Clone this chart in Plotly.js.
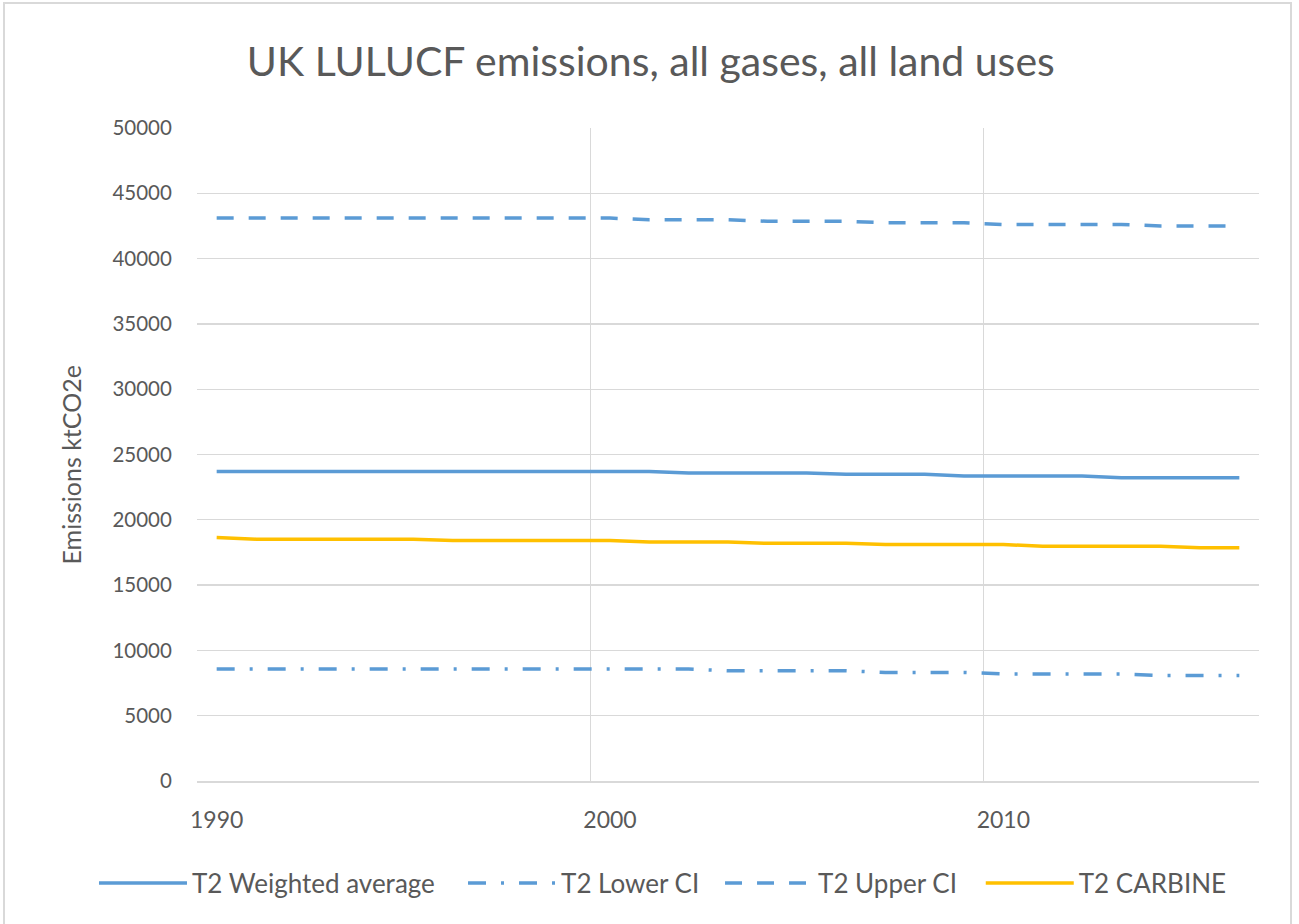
<!DOCTYPE html>
<html>
<head>
<meta charset="utf-8">
<script src="https://cdn.plot.ly/plotly-3.0.1.min.js"></script>
<style>
  html, body { margin: 0; padding: 0; background: #ffffff; overflow: hidden; }
  #wrap { position: relative; width: 1299px; height: 924px; }
  #chart { position: absolute; left: 0; top: 0; width: 1299px; height: 924px; }
  #frame { position: absolute; left: 3px; top: 2px; width: 1289px; height: 940px;
           border: 2px solid #d9d9d9; box-sizing: border-box; pointer-events: none; }
</style>
</head>
<body>
<div id="wrap">
  <div id="chart"></div>
  <div id="frame"></div>
</div>
<script>
const years = [1990, 1991, 1992, 1993, 1994, 1995, 1996, 1997, 1998, 1999,
               2000, 2001, 2002, 2003, 2004, 2005, 2006, 2007, 2008, 2009,
               2010, 2011, 2012, 2013, 2014, 2015, 2016];

const weightedAverage = [23700, 23700, 23700, 23700, 23700, 23700, 23700, 23700, 23700, 23700,
                         23700, 23700, 23590, 23590, 23590, 23590, 23480, 23480, 23480, 23350,
                         23350, 23350, 23350, 23220, 23220, 23220, 23220];

const lowerCI = [8570, 8570, 8570, 8570, 8570, 8570, 8570, 8570, 8570, 8570,
                 8570, 8570, 8570, 8440, 8440, 8440, 8440, 8310, 8310, 8310,
                 8200, 8200, 8200, 8200, 8080, 8080, 8080];

const upperCI = [43100, 43100, 43100, 43100, 43100, 43100, 43100, 43100, 43100, 43100,
                 43100, 42970, 42970, 42970, 42860, 42860, 42860, 42740, 42740, 42740,
                 42610, 42610, 42610, 42610, 42500, 42500, 42500];

const carbine = [18640, 18520, 18520, 18520, 18520, 18520, 18410, 18410, 18410, 18410,
                 18410, 18300, 18300, 18300, 18200, 18200, 18200, 18100, 18100, 18100,
                 18100, 17980, 17980, 17980, 17980, 17860, 17860];

const seriesNames = ['T2 Weighted average', 'T2 Lower CI', 'T2 Upper CI', 'T2 CARBINE'];
const xTickVals = [1990, 2000, 2010];
const xTickText = ['1990', '2000', '2010'];
const yTitle = 'Emissions ktCO2e';

const blue = '#5B9BD5';
const gold = '#FFC000';
const textCol = '#595959';
const gridCol = '#D9D9D9';
const fontFam = 'Lato, "Open Sans", sans-serif';

const traces = [
  { x: years, y: weightedAverage, name: seriesNames[0], type: 'scatter', mode: 'lines',
    legend: 'legend', line: { color: blue, width: 3.5 } },
  { x: years, y: lowerCI, name: seriesNames[1], type: 'scatter', mode: 'lines',
    legend: 'legend2', line: { color: blue, width: 3.5, dash: '18px,15px,3px,15px' } },
  { x: years, y: upperCI, name: seriesNames[2], type: 'scatter', mode: 'lines',
    legend: 'legend3', line: { color: blue, width: 3.5, dash: '17px,15px' } },
  { x: years, y: carbine, name: seriesNames[3], type: 'scatter', mode: 'lines',
    legend: 'legend4', line: { color: gold, width: 3.5 } }
];

function legendAt(xPos) {
  return {
    orientation: 'h',
    x: xPos, xanchor: 'left',
    y: -0.1203, yanchor: 'top',
    font: { size: 26, color: textCol, family: fontFam },
    bgcolor: 'rgba(0,0,0,0)',
    itemwidth: 88
  };
}

const layout = {
  width: 1299,
  height: 924,
  margin: { l: 197, r: 40, t: 128, b: 143 },
  paper_bgcolor: 'rgba(0,0,0,0)',
  plot_bgcolor: '#ffffff',
  font: { family: fontFam, color: textCol, size: 20 },
  title: {
    text: 'UK LULUCF emissions, all gases, all land uses',
    font: { family: fontFam, size: 41, color: textCol, weight: 400 },
    x: 0.501, xanchor: 'center', xref: 'container',
    y: 0.933, yref: 'container', yanchor: 'middle'
  },
  xaxis: {
    range: [1989.5, 2016.5],
    tickmode: 'array',
    tickvals: xTickVals,
    ticktext: xTickText,
    showgrid: false,
    zeroline: false,
    showline: true,
    linecolor: gridCol,
    linewidth: 2,
    ticks: 'outside', ticklen: 17, tickcolor: 'rgba(0,0,0,0)',
    tickfont: { size: 23, color: textCol, family: fontFam },
    minor: { tickmode: 'linear', tick0: 1989.5, dtick: 10, showgrid: true,
             gridcolor: gridCol, gridwidth: 1.3, ticks: '' }
  },
  yaxis: {
    range: [0, 50000],
    dtick: 5000,
    tick0: 0,
    showgrid: true,
    gridcolor: gridCol,
    gridwidth: 1.3,
    zeroline: false,
    showline: false,
    ticks: 'outside', ticklen: 20, tickcolor: 'rgba(0,0,0,0)',
    tickformat: 'd',
    tickfont: { size: 20.5, color: textCol, family: fontFam }
  },
  annotations: [{
    text: yTitle,
    xref: 'paper', x: 0, xanchor: 'center', xshift: -127,
    yref: 'paper', y: 0.5, yanchor: 'middle', yshift: -11,
    textangle: -90, showarrow: false,
    font: { size: 25, color: textCol, family: fontFam }
  }],
  showlegend: true,
  legend: legendAt(-0.097),
  legend2: legendAt(0.2505),
  legend3: legendAt(0.4925),
  legend4: legendAt(0.738)
};

Plotly.newPlot('chart', traces, layout, { displayModeBar: false, staticPlot: true });
</script>
</body>
</html>
